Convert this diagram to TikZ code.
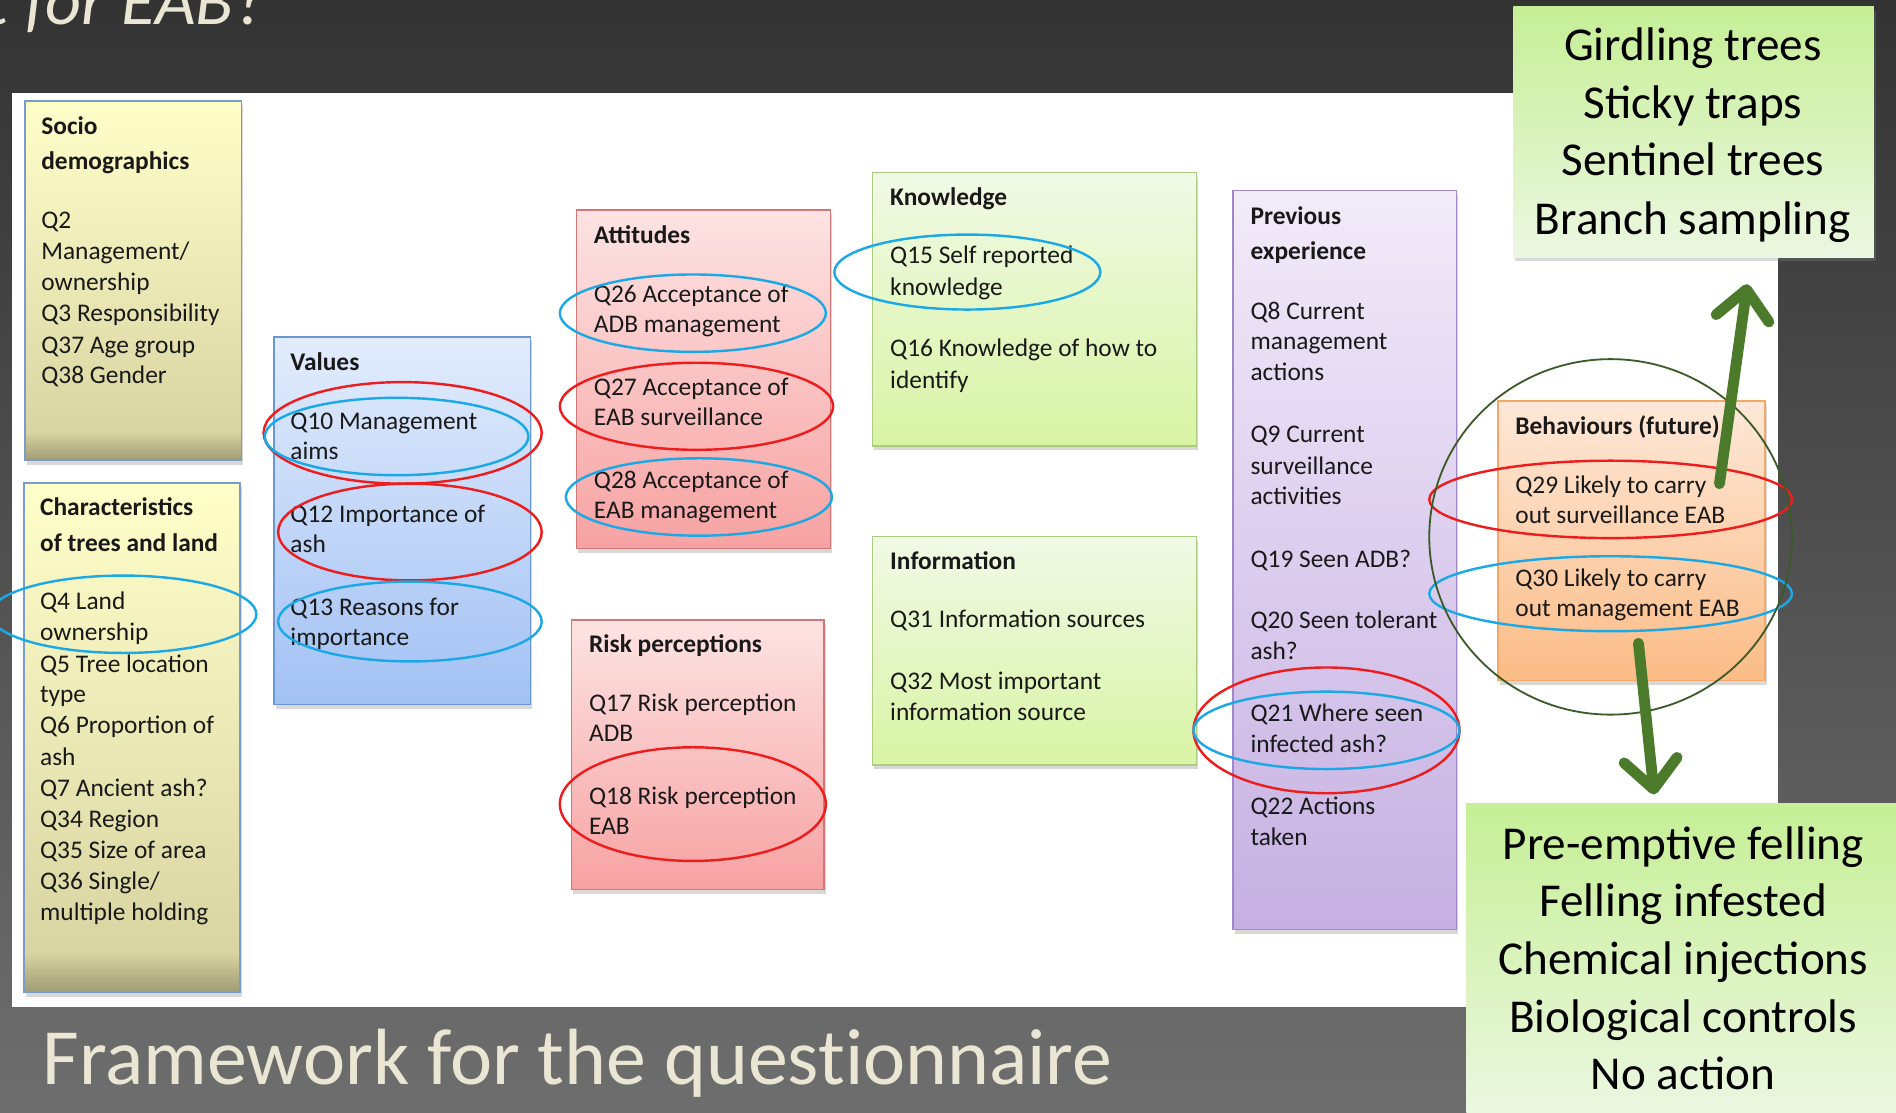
\documentclass[tikz,border=0pt]{standalone}
\usepackage{fontspec}
\setmainfont{Carlito}
\newfontfamily\titlefont{Carlito}[Ligatures=NoCommon]
\usetikzlibrary{shadows,arrows.meta}
\definecolor{bgtop}{HTML}{333333}
\definecolor{bgbot}{HTML}{6E6E6E}
\definecolor{cream}{HTML}{EAE6D4}
\definecolor{yb}{HTML}{A09C74}
\definecolor{ym}{HTML}{D9D5A3}
\definecolor{yt}{HTML}{FFFFCA}
\definecolor{ybord}{HTML}{7A9CC8}
\definecolor{vtop}{HTML}{E2ECFC}
\definecolor{vbot}{HTML}{A2C1F4}
\definecolor{vbord}{HTML}{6A96D4}
\definecolor{ptop}{HTML}{FDE3E3}
\definecolor{pbot}{HTML}{F7A2A2}
\definecolor{pbord}{HTML}{D07878}
\definecolor{ktop}{HTML}{F1F9E6}
\definecolor{kbot}{HTML}{D8F4A4}
\definecolor{kbord}{HTML}{A9CC80}
\definecolor{ltop}{HTML}{F2EBF9}
\definecolor{lbot}{HTML}{C5B0E2}
\definecolor{lbord}{HTML}{9F87C9}
\definecolor{otop}{HTML}{FEE8D8}
\definecolor{obot}{HTML}{FBBC86}
\definecolor{obord}{HTML}{F3A868}
\definecolor{gtop}{HTML}{C6EF96}
\definecolor{gbot}{HTML}{ECF7E2}
\definecolor{ered}{HTML}{EE1C1C}
\definecolor{eblue}{HTML}{1AA8E6}
\definecolor{egreen}{HTML}{3C5A28}
\definecolor{agreen}{HTML}{4A7A2A}
\pgfdeclareverticalshading{ybox}{100bp}{color(0bp)=(yb); color(25bp)=(yb); color(29bp)=(ym); color(75bp)=(yt); color(100bp)=(yt)}
\newcommand\qlines[3]{%
  \foreach \yy/\qtext [count=\k] in {#3} {\node[txt] (#1\k) at (#2,\yy+7) {\qtext};}}
\tikzset{
  box/.style={draw, line width=1.3pt, anchor=north west, inner sep=0pt,
    drop shadow={shadow xshift=1.5pt, shadow yshift=-3.5pt, opacity=0.3}},
  txt/.style={anchor=base west, inner sep=0pt, font=\fontsize{21}{25}\selectfont, text=black!90},
  gtxt/.style={anchor=base, inner sep=0pt, font=\fontsize{39}{47}\selectfont, text=black},
  ell/.style={line width=2pt},
  garrow/.style={draw=agreen, line width=9pt, line cap=round,
    -{Straight Barb[round, length=24pt, width=44pt]}}
}
\begin{document}
\begin{tikzpicture}[x=1pt, y=-1pt]
\useasboundingbox (0,0) rectangle (1568,920);
\shade[top color=bgtop, bottom color=bgbot] (0,0) rectangle (1568,920);
\fill[white] (10,77) rectangle (1470,833);
% titles
\node[anchor=base west, inner sep=0pt, text=cream, font=\fontsize{58}{60}\selectfont\titlefont\itshape] (ttop) at (-12,20) {t for EAB?};
\node[anchor=base west, inner sep=0pt, text=cream, font=\fontsize{66}{70}\selectfont\titlefont] (tbot) at (35,897) {Framework for the questionnaire};
% boxes
\node[box, draw=ybord, shading=ybox, minimum width=179pt, minimum height=297pt] (socio) at (20,83) {};
\node[box, draw=ybord, shading=ybox, minimum width=179pt, minimum height=421pt] (chars) at (19,399) {};
\node[box, draw=vbord, top color=vtop, bottom color=vbot, minimum width=212pt, minimum height=304pt] (values) at (226,278) {};
\node[box, draw=pbord, top color=ptop, bottom color=pbot, minimum width=210pt, minimum height=280pt] (att) at (476,173) {};
\node[box, draw=pbord, top color=ptop, bottom color=pbot, minimum width=209pt, minimum height=223pt] (risk) at (472,512) {};
\node[box, draw=kbord, top color=ktop, bottom color=kbot, minimum width=268pt, minimum height=226pt] (know) at (721,142) {};
\node[box, draw=kbord, top color=ktop, bottom color=kbot, minimum width=268pt, minimum height=189pt] (info) at (721,443) {};
\node[box, draw=lbord, top color=ltop, bottom color=lbot, minimum width=185pt, minimum height=611pt] (prev) at (1019,157) {};
\node[box, draw=obord, top color=otop, bottom color=obot, minimum width=221pt, minimum height=231pt] (beh) at (1238,331) {};
% texts
\qlines{s}{34}{104/{\bfseries Socio}, 133/{\bfseries demographics}, 182/Q2, 208/{Management/}, 233/ownership, 259/Q3 Responsibility, 285/Q37 Age group, 310/Q38 Gender}
\qlines{c}{33}{419/{\bfseries Characteristics}, 449/{\bfseries of trees and land}, 497/Q4 Land, 523/ownership, 549/Q5 Tree location, 574/type, 600/Q6 Proportion of, 626/ash, 652/Q7 Ancient ash?, 677/Q34 Region, 703/Q35 Size of area, 729/{Q36 Single/}, 754/multiple holding}
\qlines{v}{240}{299/{\bfseries Values}, 348/Q10 Management, 373/aims, 425/Q12 Importance of, 450/ash, 502/Q13 Reasons for, 527/importance}
\qlines{a}{491}{194/{\bfseries Attitudes}, 243/Q26 Acceptance of, 268/ADB management, 320/Q27 Acceptance of, 345/EAB surveillance, 397/Q28 Acceptance of, 422/EAB management}
\qlines{r}{487}{533/{\bfseries Risk perceptions}, 581/Q17 Risk perception, 606/ADB, 658/Q18 Risk perception, 683/EAB}
\qlines{k}{736}{163/{\bfseries Knowledge}, 211/Q15 Self reported, 237/knowledge, 288/Q16 Knowledge of how to, 314/identify}
\qlines{i}{736}{464/{\bfseries Information}, 512/Q31 Information sources, 563/Q32 Most important, 589/information source}
\qlines{p}{1034}{179/{\bfseries Previous}, 208/{\bfseries experience}, 257/Q8 Current, 282/management, 308/actions, 359/Q9 Current, 385/surveillance, 410/activities, 462/Q19 Seen ADB?, 513/Q20 Seen tolerant, 538/ash?, 590/Q21 Where seen, 615/infected ash?, 667/Q22 Actions, 692/taken}
\qlines{b}{1253}{352/{\bfseries Behaviours (future)}, 401/Q29 Likely to carry, 426/out surveillance EAB, 478/Q30 Likely to carry, 503/out management EAB}
% ellipses
\draw[ell, ered] (333,358) ellipse [x radius=115pt, y radius=42pt];
\draw[ell, eblue] (328,361) ellipse [x radius=109pt, y radius=32pt];
\draw[ell, ered] (339,440) ellipse [x radius=109pt, y radius=40pt];
\draw[ell, eblue] (339,514) ellipse [x radius=109pt, y radius=33pt];
\draw[ell, eblue] (102,508) ellipse [x radius=110pt, y radius=32pt];
\draw[ell, eblue] (573,259) ellipse [x radius=110pt, y radius=32pt];
\draw[ell, ered] (576,336) ellipse [x radius=113pt, y radius=36pt];
\draw[ell, eblue] (578,411) ellipse [x radius=110pt, y radius=32pt];
\draw[ell, ered] (573,665) ellipse [x radius=110pt, y radius=47pt];
\draw[ell, eblue] (800,225) ellipse [x radius=110pt, y radius=31pt];
\draw[ell, ered] (1097,604) ellipse [x radius=110pt, y radius=52pt];
\draw[ell, eblue] (1097,604) ellipse [x radius=110pt, y radius=32pt];
\draw[ell, ered] (1332,413) ellipse [x radius=150pt, y radius=32pt];
\draw[ell, eblue] (1332,491) ellipse [x radius=150pt, y radius=31pt];
\draw[line width=1.5pt, egreen] (1332,444) ellipse [x radius=150pt, y radius=147pt];
% green boxes
\node[box, draw=none, top color=gtop, bottom color=gbot, minimum width=298pt, minimum height=207pt] (gt) at (1251,5) {};
\node[box, draw=none, top color=gtop, bottom color=gbot, minimum width=356pt, minimum height=260pt] (gb) at (1212,664) {};
\node[gtxt] (gt1) at (1400,50) {Girdling trees};
\node[gtxt] (gt2) at (1400,98) {Sticky traps};
\node[gtxt] (gt3) at (1400,145) {Sentinel trees};
\node[gtxt] (gt4) at (1400,194) {Branch sampling};
\node[gtxt] (gb1) at (1392,711) {Pre-emptive felling};
\node[gtxt] (gb2) at (1392,758) {Felling infested};
\node[gtxt] (gb3) at (1392,806) {Chemical injections};
\node[gtxt] (gb4) at (1392,854) {Biological controls};
\node[gtxt] (gb5) at (1392,901) {No action};
% arrows
\coordinate (u1) at (1422,400);
\coordinate (u2) at (1445,235);
\coordinate (d1) at (1355,532);
\coordinate (d2) at (1368,657);
\draw[garrow] (u1) -- (u2);
\draw[garrow] (d1) -- (d2);
\end{tikzpicture}
\end{document}
